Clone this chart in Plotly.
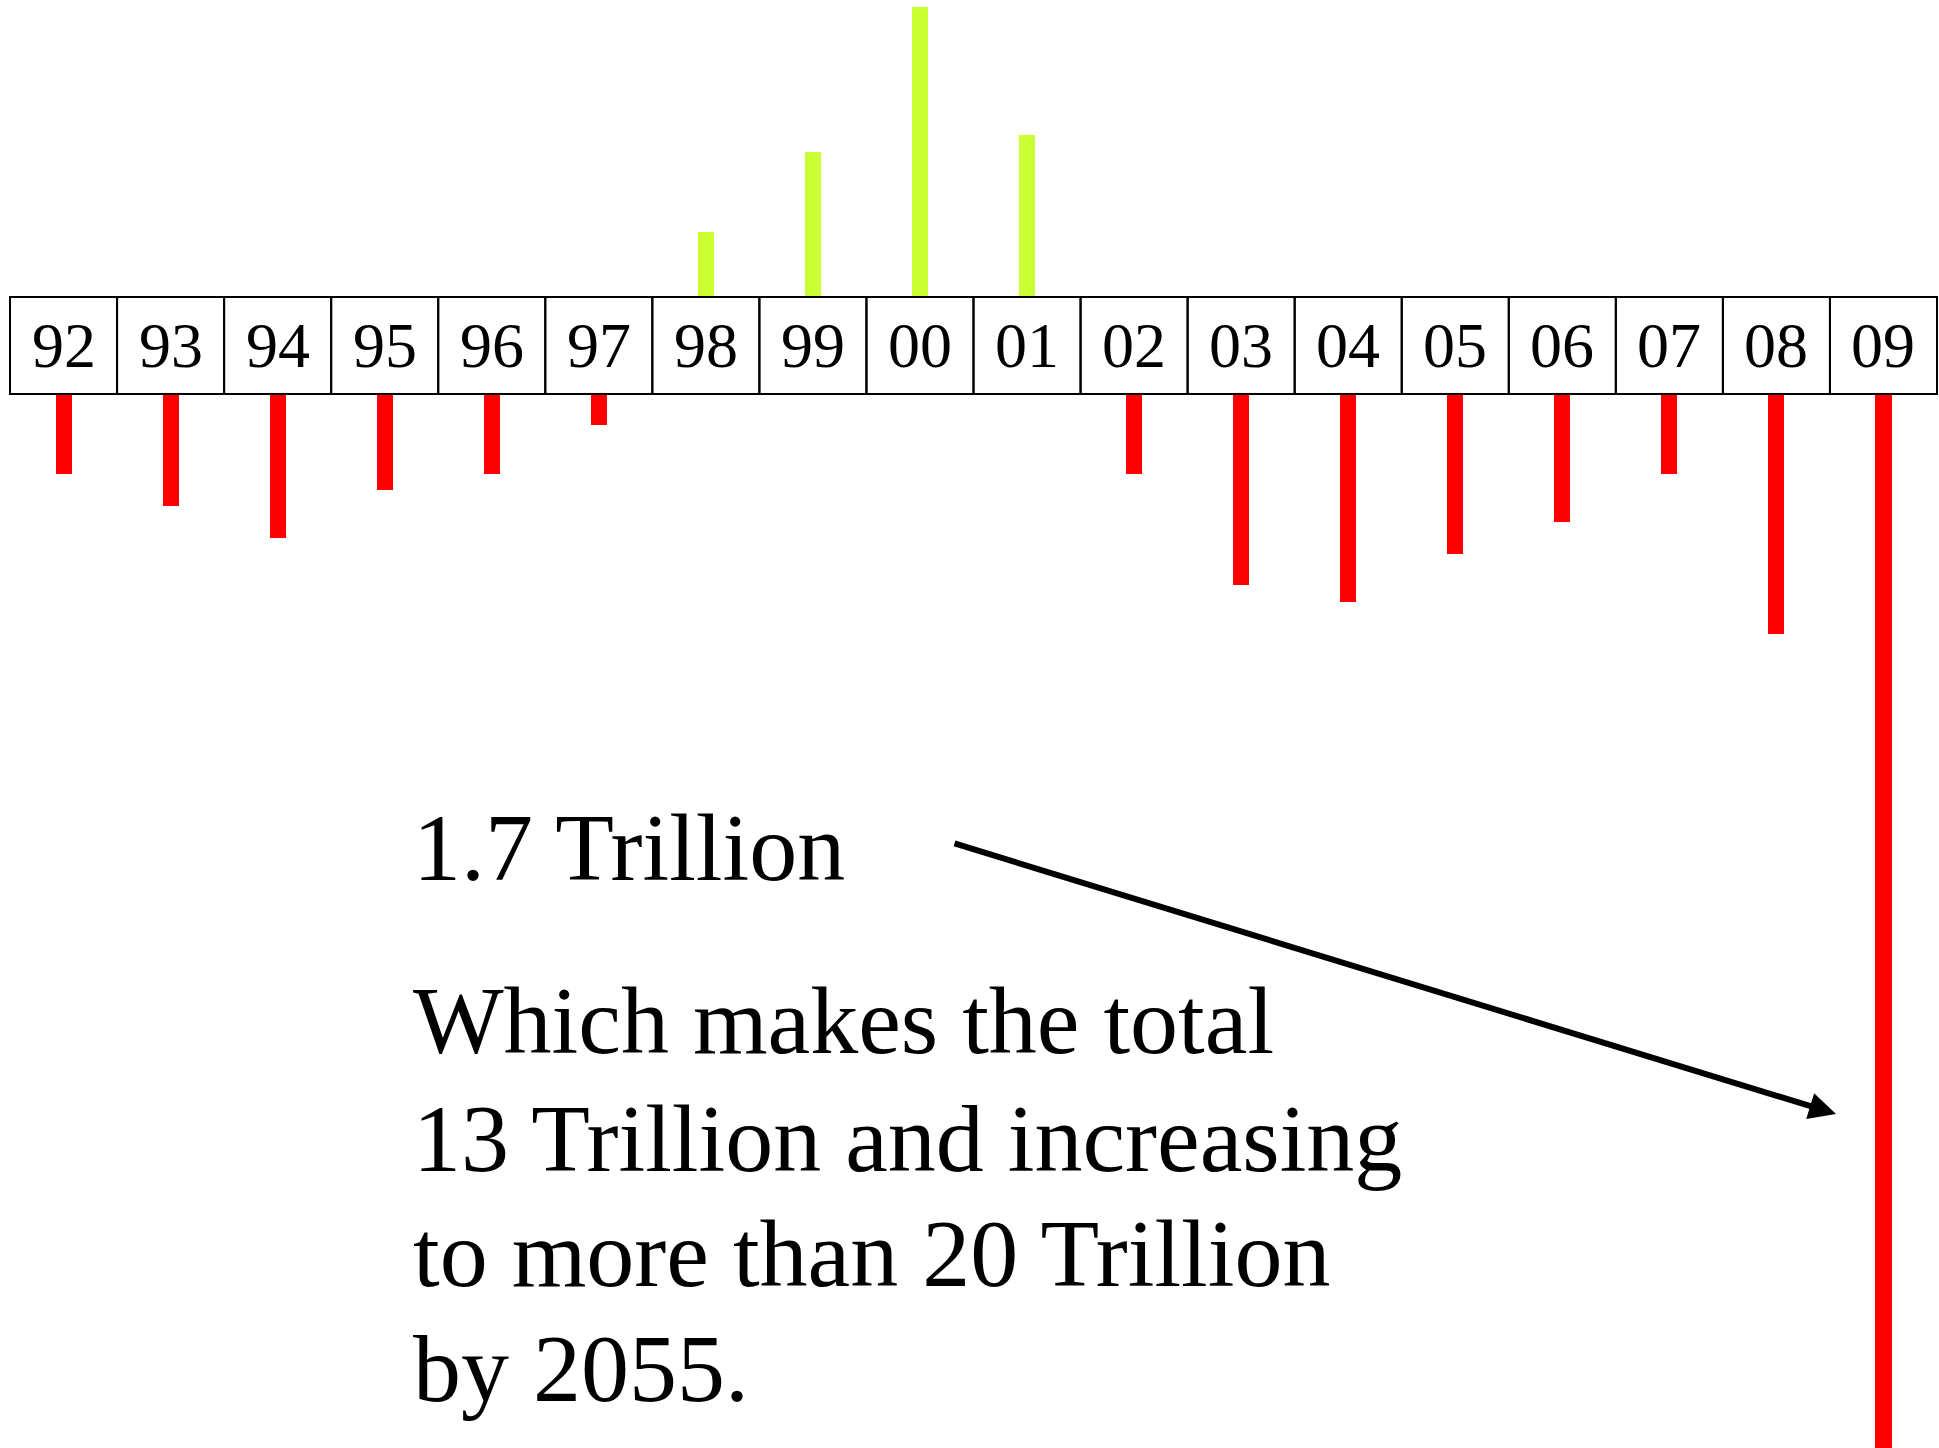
import plotly.graph_objects as go

# Fiscal years (two-digit labels) and budget balance (billions, + surplus / - deficit)
years = ["92", "93", "94", "95", "96", "97", "98", "99", "00", "01",
         "02", "03", "04", "05", "06", "07", "08", "09"]
balance = [-64, -90, -116, -77, -64, -25, 52, 117, 233, 130,
           -64, -154, -167, -129, -103, -64, -193, -1700]

headline = "1.7 Trillion"
body_lines = ["Which makes the total",
              "13 Trillion and increasing",
              "to more than 20 Trillion",
              "by 2055."]

W, H = 1939, 1448
BOX_H = 78          # height of the label strip, in axis units
SERIF = "Liberation Serif, Times New Roman, serif"

idx = list(range(len(years)))
pos_x = [i for i, v in zip(idx, balance) if v > 0]
pos_y = [v for v in balance if v > 0]
neg_x = [i for i, v in zip(idx, balance) if v < 0]
neg_y = [v for v in balance if v < 0]

fig = go.Figure()
fig.add_trace(go.Bar(x=pos_x, y=pos_y, base=0, width=0.15,
                     marker=dict(color="#CCFF33", line=dict(width=0)),
                     hoverinfo="skip"))
fig.add_trace(go.Bar(x=neg_x, y=neg_y, base=-BOX_H, width=0.15,
                     marker=dict(color="#FF0000", line=dict(width=0)),
                     hoverinfo="skip"))

shapes = []
annotations = []
for i, lab in zip(idx, years):
    shapes.append(dict(type="rect", xref="x", yref="y",
                       x0=i - 0.5, x1=i + 0.5, y0=-BOX_H, y1=0,
                       line=dict(color="black", width=2), fillcolor="rgba(0,0,0,0)"))
    annotations.append(dict(x=i, y=-BOX_H / 2, xref="x", yref="y", text=lab,
                            showarrow=False, font=dict(family=SERIF, size=64, color="black"),
                            xanchor="center", yanchor="middle"))

def px(x):
    return x / W

def py(y):
    return 1 - y / H

FS = 96
annotations.append(dict(x=px(411), y=py(885 - 38), xref="paper", yref="paper",
                        text=headline, showarrow=False, xanchor="left", yanchor="middle",
                        font=dict(family=SERIF, size=FS, color="black")))
baselines = [1057, 1175, 1290, 1405]
for line, b in zip(body_lines, baselines):
    annotations.append(dict(x=px(411), y=py(b - 37), xref="paper", yref="paper",
                            text=line, showarrow=False, xanchor="left", yanchor="middle",
                            font=dict(family=SERIF, size=FS, color="black")))

# arrow from the headline to the 09 bar
tip_x, tip_y, tail_x, tail_y = 1836, 1114, 953, 843
annotations.append(dict(x=px(tip_x), y=py(tip_y), xref="paper", yref="paper",
                        ax=tail_x - tip_x, ay=tail_y - tip_y, axref="pixel", ayref="pixel",
                        text="", showarrow=True, arrowhead=2, arrowsize=0.9,
                        arrowwidth=6, arrowcolor="black", standoff=0))

unit_w = (1937 - 10) / len(years)
fig.update_layout(
    width=W, height=H,
    margin=dict(l=0, r=0, t=0, b=0),
    paper_bgcolor="white", plot_bgcolor="white",
    showlegend=False, bargap=0,
    xaxis=dict(range=[-0.5 - 10 / unit_w, len(years) - 0.5 + 2 / unit_w],
               visible=False, fixedrange=True),
    yaxis=dict(range=[-(H - 297) / 1.243, 297 / 1.243], visible=False, fixedrange=True),
    shapes=shapes, annotations=annotations,
)

fig.write_html("out.html", config={"displayModeBar": False},
               post_script="document.body.style.margin='0';document.body.style.overflow='hidden';")
